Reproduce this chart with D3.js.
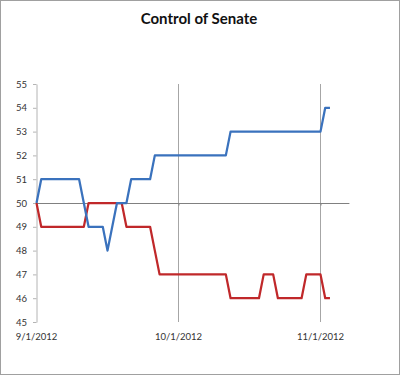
<!DOCTYPE html>
<html lang="en">
<head>
  <meta charset="UTF-8">
  <title>Control of Senate</title>
  <script src="https://d3js.org/d3.v7.min.js"></script>
  <style>
    body { margin: 0; background: #fff; }
    svg { display: block; font-family: Lato, "Open Sans", sans-serif; }
  </style>
</head>
<body>
  <svg id="chart" width="400" height="375"></svg>

  <script>
    // one value per day, index 0 = 9/1/2012
    const demSeats = [
      50, 51, 51, 51, 51, 51, 51, 51, 51, 51,
      50, 49, 49, 49, 49, 48, 49, 50, 50, 50,
      51, 51, 51, 51, 51, 52, 52, 52, 52, 52,
      52, 52, 52, 52, 52, 52, 52, 52, 52, 52,
      52, 53, 53, 53, 53, 53, 53, 53, 53, 53,
      53, 53, 53, 53, 53, 53, 53, 53, 53, 53,
      53, 54, 54
    ];
    const repSeats = [
      50, 49, 49, 49, 49, 49, 49, 49, 49, 49,
      49, 50, 50, 50, 50, 50, 50, 50, 50, 49,
      49, 49, 49, 49, 49, 48, 47, 47, 47, 47,
      47, 47, 47, 47, 47, 47, 47, 47, 47, 47,
      47, 46, 46, 46, 46, 46, 46, 46, 47, 47,
      47, 46, 46, 46, 46, 46, 46, 47, 47, 47,
      47, 46, 46
    ];
    const xTickDays = [0, 30, 60];
    const xTickLabels = ['9/1/2012', '10/1/2012', '11/1/2012'];
    const yTicks = [45, 46, 47, 48, 49, 50, 51, 52, 53, 54, 55];

    const svg = d3.select('#chart');

    // outer frame
    svg.append('rect')
      .attr('x', 0.5).attr('y', 0.5)
      .attr('width', 399).attr('height', 374)
      .attr('fill', '#fff')
      .attr('stroke', '#a0a0a0');

    svg.append('text')
      .attr('x', 199).attr('y', 24)
      .attr('text-anchor', 'middle')
      .attr('font-size', 15)
      .attr('font-weight', 'bold')
      .attr('fill', '#111')
      .text('Control of Senate');

    const x = d3.scaleLinear().domain([0, 66]).range([36.5, 348.9]);
    const y = d3.scaleLinear().domain([45, 55]).range([322, 84]);

    // vertical gridlines at the labelled dates
    svg.append('g')
      .selectAll('line')
      .data(xTickDays.slice(1))
      .join('line')
      .attr('x1', d => x(d)).attr('x2', d => x(d))
      .attr('y1', y(55)).attr('y2', y(45))
      .attr('stroke', '#a6a6a6')
      .attr('stroke-width', 1);

    // y axis
    const yAxis = svg.append('g')
      .attr('transform', `translate(${x(0)},0)`)
      .call(d3.axisLeft(y).tickValues(yTicks).tickSize(3.5).tickPadding(6).tickSizeOuter(0));
    yAxis.select('.domain').attr('stroke', '#b4b4b4');
    yAxis.selectAll('.tick line').attr('stroke', '#b4b4b4');
    yAxis.selectAll('.tick text')
      .attr('font-family', 'Lato, sans-serif')
      .attr('font-size', 9.5)
      .attr('fill', '#333');

    // x axis crossing at 50
    const xAxis = svg.append('g')
      .attr('transform', `translate(0,${y(50)})`)
      .call(d3.axisBottom(x).tickValues(xTickDays.slice(1)).tickSize(2.5).tickSizeOuter(0).tickFormat(''));
    xAxis.select('.domain').attr('stroke', '#808080').attr('stroke-width', 1.2);
    xAxis.selectAll('.tick line').attr('stroke', '#808080');

    // date labels below the plot
    svg.append('g')
      .selectAll('text')
      .data(xTickDays)
      .join('text')
      .attr('x', d => x(d))
      .attr('y', 340)
      .attr('text-anchor', 'middle')
      .attr('font-size', 9.5)
      .attr('fill', '#333')
      .text((d, i) => xTickLabels[i]);

    const line = d3.line()
      .x((d, i) => x(i))
      .y(d => y(d));

    svg.append('path')
      .datum(repSeats)
      .attr('d', line)
      .attr('fill', 'none')
      .attr('stroke', '#c0282a')
      .attr('stroke-width', 2.25)
      .attr('stroke-linejoin', 'round');

    svg.append('path')
      .datum(demSeats)
      .attr('d', line)
      .attr('fill', 'none')
      .attr('stroke', '#3a72bd')
      .attr('stroke-width', 2.25)
      .attr('stroke-linejoin', 'round');
  </script>
</body>
</html>
